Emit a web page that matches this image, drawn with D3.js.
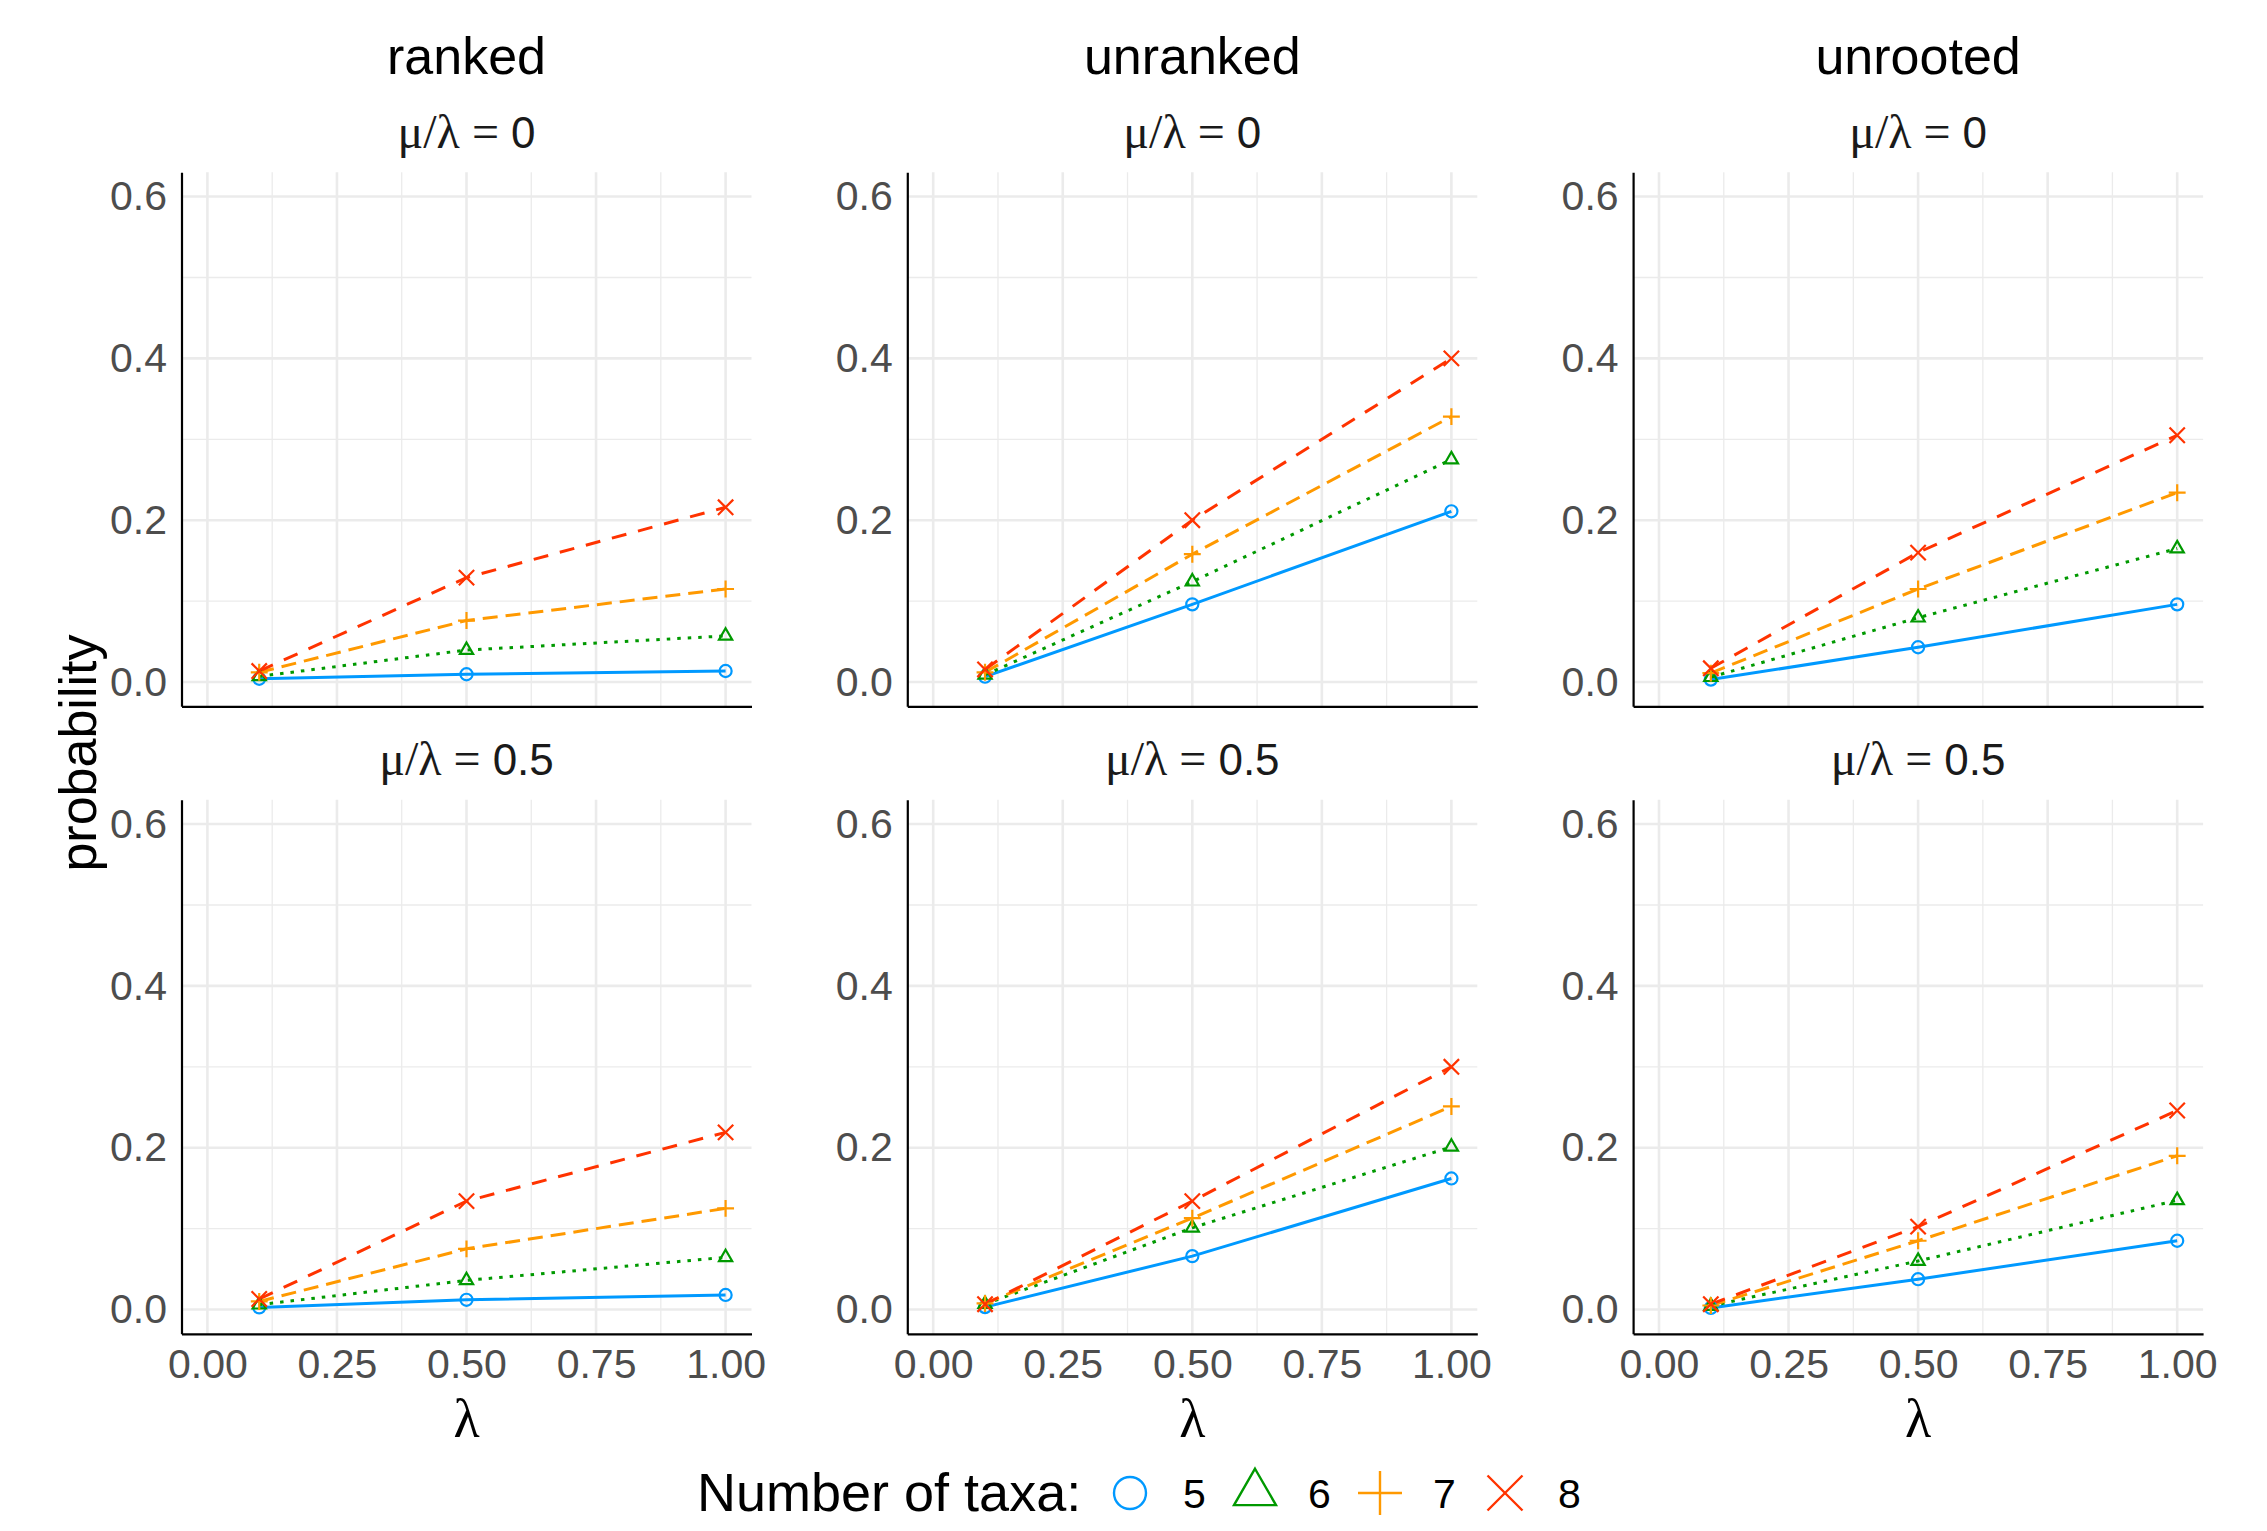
<!DOCTYPE html>
<html>
<head>
<meta charset="utf-8">
<script src="https://cdn.jsdelivr.net/npm/d3@7"></script>
<style>
  body { margin: 0; background: #fff; }
  text { font-family: "Liberation Sans", Arial, sans-serif; }
</style>
</head>
<body>
<div id="chart"></div>
<script>

// facets
var layouts = ["ranked", "unranked", "unrooted"];
var ratios = ["0", "0.5"];

// x values and series
var lambdas = [0.1, 0.5, 1.0];
var taxa = ["5", "6", "7", "8"];

var xTicks = [0, 0.25, 0.5, 0.75, 1],
    xMinor = [0.125, 0.375, 0.625, 0.875],
    yTicks = [0, 0.2, 0.4, 0.6],
    yMinor = [0.1, 0.3, 0.5];

// probability, one row per number of taxa (5,6,7,8), at lambda 0.1 / 0.5 / 1.0
var rankedMu0     = [[0.004, 0.0096, 0.0136], [0.007, 0.0395, 0.057], [0.012, 0.076, 0.115], [0.0136, 0.129, 0.216]];
var rankedMu05    = [[0.0026, 0.012, 0.018], [0.006, 0.036, 0.0645], [0.01, 0.075, 0.125], [0.013, 0.134, 0.219]];
var unrankedMu0   = [[0.0066, 0.096, 0.211], [0.0088, 0.124, 0.275], [0.012, 0.158, 0.328], [0.0155, 0.2, 0.4]];
var unrankedMu05  = [[0.003, 0.066, 0.162], [0.0066, 0.101, 0.201], [0.0075, 0.113, 0.251], [0.0066, 0.134, 0.3]];
var unrootedMu0   = [[0.003, 0.043, 0.096], [0.006, 0.0795, 0.165], [0.011, 0.115, 0.234], [0.017, 0.16, 0.305]];
var unrootedMu05  = [[0.002, 0.0375, 0.085], [0.0044, 0.06, 0.135], [0.005, 0.085, 0.19], [0.0066, 0.1025, 0.246]];

var panelValues = {
  "ranked|0": rankedMu0, "ranked|0.5": rankedMu05,
  "unranked|0": unrankedMu0, "unranked|0.5": unrankedMu05,
  "unrooted|0": unrootedMu0, "unrooted|0.5": unrootedMu05
};

// styles per series
var colors = ["#0099FF", "#009900", "#FF9900", "#FF3300"],
    dashes = [null, "3.5 7", "15 8", "15 12"],
    shapes = [d3.symbolCircle, d3.symbolTriangle2, d3.symbolPlus, d3.symbolTimes],
    pointSizes = [115, 125, 95, 155],
    legendSizes = [804, 1262, 633, 800];

// layout
var W = 2267, H = 1531,
    colLeft = [181.5, 907.3, 1633.1],
    rowTop = [172.3, 799.8],
    pw = 570, ph = 534;

var svg = d3.select("#chart").append("svg")
    .attr("width", W)
    .attr("height", H)
    .style("background", "#fff");

var x = d3.scaleLinear().domain([-0.05, 1.05]).range([0, pw]),
    y = d3.scaleLinear().domain([-0.03, 0.63]).range([ph, 0]);

var line = d3.line()
    .x(function(d) { return x(d[0]); })
    .y(function(d) { return y(d[1]); });

layouts.forEach(function(layout, ci) {

  // column title
  svg.append("text")
      .attr("x", colLeft[ci] + pw / 2)
      .attr("y", 74)
      .attr("text-anchor", "middle")
      .style("font-size", "52px")
      .style("fill", "#000")
      .text(layout);

  ratios.forEach(function(ratio, ri) {
    var g = svg.append("g")
        .attr("transform", "translate(" + colLeft[ci] + "," + rowTop[ri] + ")");

    // strip label  mu/lambda = ratio
    var strip = g.append("text")
        .attr("x", pw / 2)
        .attr("y", -24.5)
        .attr("text-anchor", "middle")
        .style("font-size", "44px")
        .style("fill", "#1A1A1A");
    strip.append("tspan").style("font-family", "'Liberation Serif', serif")
        .style("font-size", "48px").text("\u03BC/\u03BB = ");
    strip.append("tspan").text(ratio);

    // grid
    g.selectAll(".ymin").data(yMinor).enter().append("line")
        .attr("x1", 0).attr("x2", pw)
        .attr("y1", function(d) { return y(d); }).attr("y2", function(d) { return y(d); })
        .style("stroke", "#EBEBEB").style("stroke-width", 1.3);
    g.selectAll(".xmin").data(xMinor).enter().append("line")
        .attr("y1", 0).attr("y2", ph)
        .attr("x1", function(d) { return x(d); }).attr("x2", function(d) { return x(d); })
        .style("stroke", "#EBEBEB").style("stroke-width", 1.3);
    g.selectAll(".ymaj").data(yTicks).enter().append("line")
        .attr("x1", 0).attr("x2", pw)
        .attr("y1", function(d) { return y(d); }).attr("y2", function(d) { return y(d); })
        .style("stroke", "#EBEBEB").style("stroke-width", 2.6);
    g.selectAll(".xmaj").data(xTicks).enter().append("line")
        .attr("y1", 0).attr("y2", ph)
        .attr("x1", function(d) { return x(d); }).attr("x2", function(d) { return x(d); })
        .style("stroke", "#EBEBEB").style("stroke-width", 2.6);

    // axes
    var yAxis = g.append("g")
        .call(d3.axisLeft(y).tickValues(yTicks).tickSize(0).tickPadding(14.5)
                .tickFormat(d3.format(".1f")));
    yAxis.selectAll("text").style("font-size", "41px").style("fill", "#4D4D4D")
        .style("font-family", "'Liberation Sans', Arial, sans-serif");

    var xAxis = g.append("g")
        .attr("transform", "translate(0," + ph + ")")
        .call(d3.axisBottom(x).tickValues(xTicks).tickSize(0).tickPadding(15)
                .tickFormat(ri == ratios.length - 1 ? d3.format(".2f") : ""));
    xAxis.selectAll("text").style("font-size", "41px").style("fill", "#4D4D4D")
        .style("font-family", "'Liberation Sans', Arial, sans-serif");

    [yAxis, xAxis].forEach(function(a) {
      a.select(".domain").style("stroke", "#000").style("stroke-width", 2.2);
    });

    // series
    var vals = panelValues[layout + "|" + ratio];
    var series = taxa.map(function(t, si) {
      return { i: si, pts: lambdas.map(function(l, k) { return [l, vals[si][k]]; }) };
    });

    g.selectAll(".line").data(series).enter().append("path")
        .attr("d", function(d) { return line(d.pts); })
        .style("fill", "none")
        .style("stroke", function(d) { return colors[d.i]; })
        .style("stroke-width", 3)
        .style("stroke-dasharray", function(d) { return dashes[d.i]; });

    series.forEach(function(s) {
      g.selectAll(null).data(s.pts).enter().append("path")
          .attr("transform", function(d) { return "translate(" + x(d[0]) + "," + y(d[1]) + ")"; })
          .attr("d", d3.symbol().type(shapes[s.i]).size(pointSizes[s.i]))
          .style("fill", "none")
          .style("stroke", colors[s.i])
          .style("stroke-width", 2.2);
    });
  });

  // x axis title
  svg.append("text")
      .attr("x", colLeft[ci] + pw / 2)
      .attr("y", 1437)
      .attr("text-anchor", "middle")
      .style("font-family", "'Liberation Serif', serif")
      .style("font-size", "54px")
      .style("fill", "#000")
      .text("\u03BB");
});

// y axis title
svg.append("text")
    .attr("transform", "translate(96," + (rowTop[0] + (rowTop[1] + ph - rowTop[0]) / 2) + ") rotate(-90)")
    .attr("text-anchor", "middle")
    .style("font-size", "52px")
    .style("fill", "#000")
    .text("probability");

// legend
var legend = svg.append("g");
legend.append("text")
    .attr("x", 697)
    .attr("y", 1511)
    .style("font-size", "54px")
    .style("fill", "#000")
    .text("Number of taxa:");

var keys = legend.selectAll(".key").data(taxa).enter().append("g")
    .attr("transform", function(d, i) { return "translate(" + (1130 + i * 125) + ",1493)"; });
keys.append("path")
    .attr("d", function(d, i) { return d3.symbol().type(shapes[i]).size(legendSizes[i])(); })
    .style("fill", "none")
    .style("stroke", function(d, i) { return colors[i]; })
    .style("stroke-width", 2.4);
keys.append("text")
    .attr("x", 53)
    .attr("y", 15)
    .style("font-size", "41px")
    .style("fill", "#000")
    .text(function(d) { return d; });

</script>
</body>
</html>
